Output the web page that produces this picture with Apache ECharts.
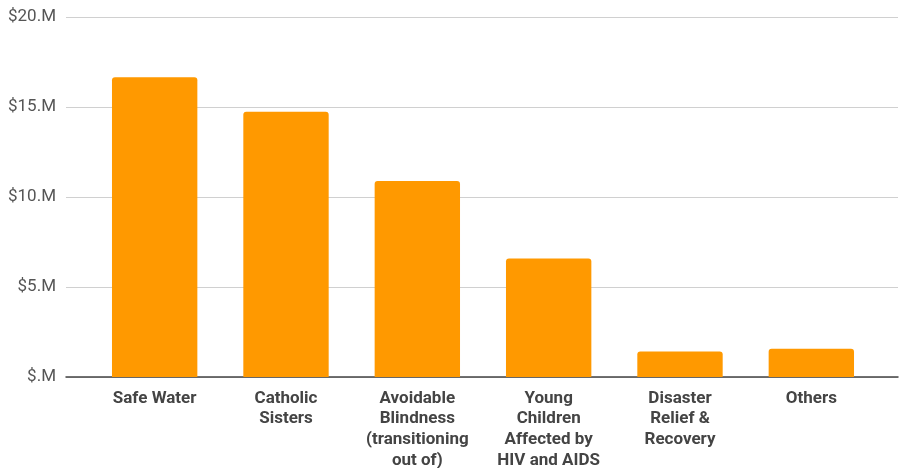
<!DOCTYPE html>
<html><head><meta charset="utf-8">
<script src="https://cdn.jsdelivr.net/npm/echarts@6/dist/echarts.min.js"></script>
<style>html,body{margin:0;padding:0;background:#fff}#c{width:902px;height:468px}</style>
</head><body><div id="c"></div>
<script>
const categories = ["Safe Water", "Catholic\nSisters", "Avoidable\nBlindness\n(transitioning\nout of)", "Young\nChildren\nAffected by\nHIV and AIDS", "Disaster\nRelief &\nRecovery", "Others"];
const values = [16.65, 14.74, 10.89, 6.58, 1.42, 1.57];
const yTicks = [0, 5, 10, 15, 20];

const chart = echarts.init(document.getElementById('c'), null, {renderer: 'canvas'});
chart.setOption({
  animation: false,
  backgroundColor: '#ffffff',
  grid: [
    {left: 66, right: 4, top: 17, bottom: 91, outerBoundsMode: 'none', containLabel: false},
    {left: 89, right: 25, top: 17, bottom: 91, outerBoundsMode: 'none', containLabel: false}
  ],
  xAxis: [
    {gridIndex: 0, type: 'value', min: 0, max: 1, show: true,
     axisLine: {show: true, onZero: true, lineStyle: {color: '#444', width: 1.5}},
     axisTick: {show: false}, axisLabel: {show: false}, splitLine: {show: false}},
    {gridIndex: 1, type: 'category', data: categories,
     axisLine: {show: false}, axisTick: {show: false},
     axisLabel: {interval: 0, margin: 11, color: '#444', fontFamily: 'Roboto', fontWeight: 'bold', fontSize: 17, lineHeight: 20.8, verticalAlign: 'top'}}
  ],
  yAxis: [
    {gridIndex: 0, type: 'value', min: yTicks[0], max: yTicks[yTicks.length-1], interval: 5,
     axisLine: {show: false}, axisTick: {show: false},
     axisLabel: {margin: 10, color: '#555', fontFamily: 'Roboto', fontSize: 17,
       formatter: v => '$' + (v === 0 ? '' : v) + '.M'},
     splitLine: {lineStyle: {color: '#d0d0d0', width: 1}}},
    {gridIndex: 1, type: 'value', min: yTicks[0], max: yTicks[yTicks.length-1], interval: 5, show: false,
     splitLine: {show: false}}
  ],
  series: [{
    type: 'bar', xAxisIndex: 1, yAxisIndex: 1, data: values,
    barWidth: '65%',
    itemStyle: {color: '#FF9900', borderRadius: [3, 3, 0, 0]}
  }]
});
</script></body></html>
